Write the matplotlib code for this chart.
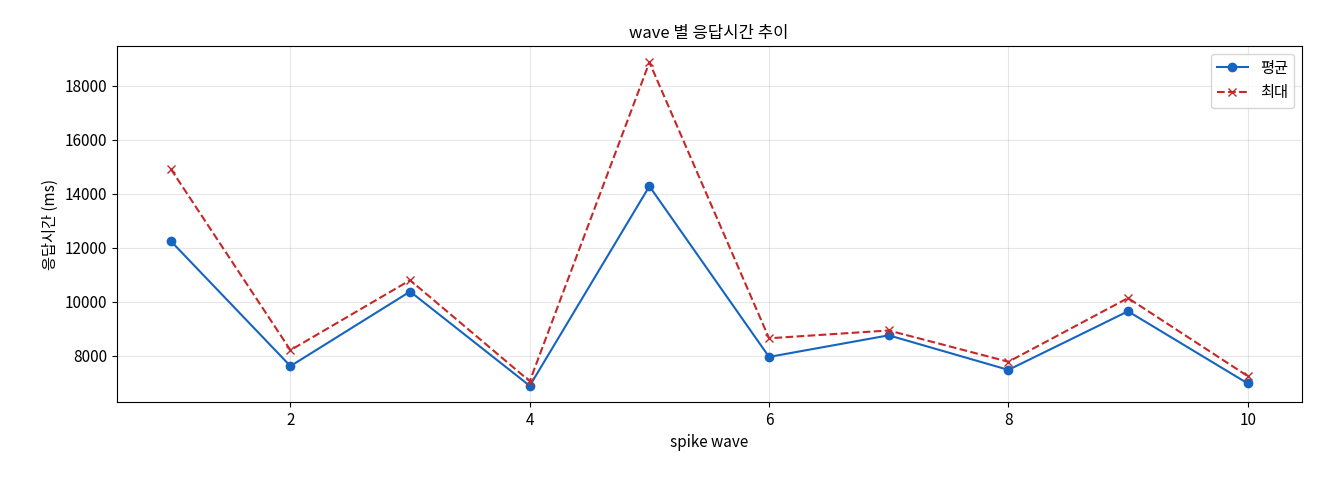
import matplotlib.pyplot as plt

plt.rcParams['font.family'] = ['Noto Sans CJK KR', 'DejaVu Sans']
plt.rcParams['font.size'] = 11

waves = [1, 2, 3, 4, 5, 6, 7, 8, 9, 10]
avg_ms = [12250, 7620, 10380, 6890, 14280, 7960, 8760, 7480, 9650, 6980]
max_ms = [14920, 8210, 10800, 7060, 18870, 8650, 8940, 7780, 10140, 7250]

fig, ax = plt.subplots(figsize=(13.2, 4.8), dpi=100)
ax.plot(waves, avg_ms, marker='o', color='#1565C0', label='평균')
ax.plot(waves, max_ms, marker='x', linestyle='--', color='#C62828', label='최대')
ax.set_title('wave 별 응답시간 추이', fontsize=12)
ax.set_xlabel('spike wave')
ax.set_ylabel('응답시간 (ms)')
ax.grid(True, alpha=0.3)
ax.legend(loc='upper right')
fig.subplots_adjust(left=0.0886, right=0.986, top=0.904, bottom=0.1625)
fig.savefig('out.png')
